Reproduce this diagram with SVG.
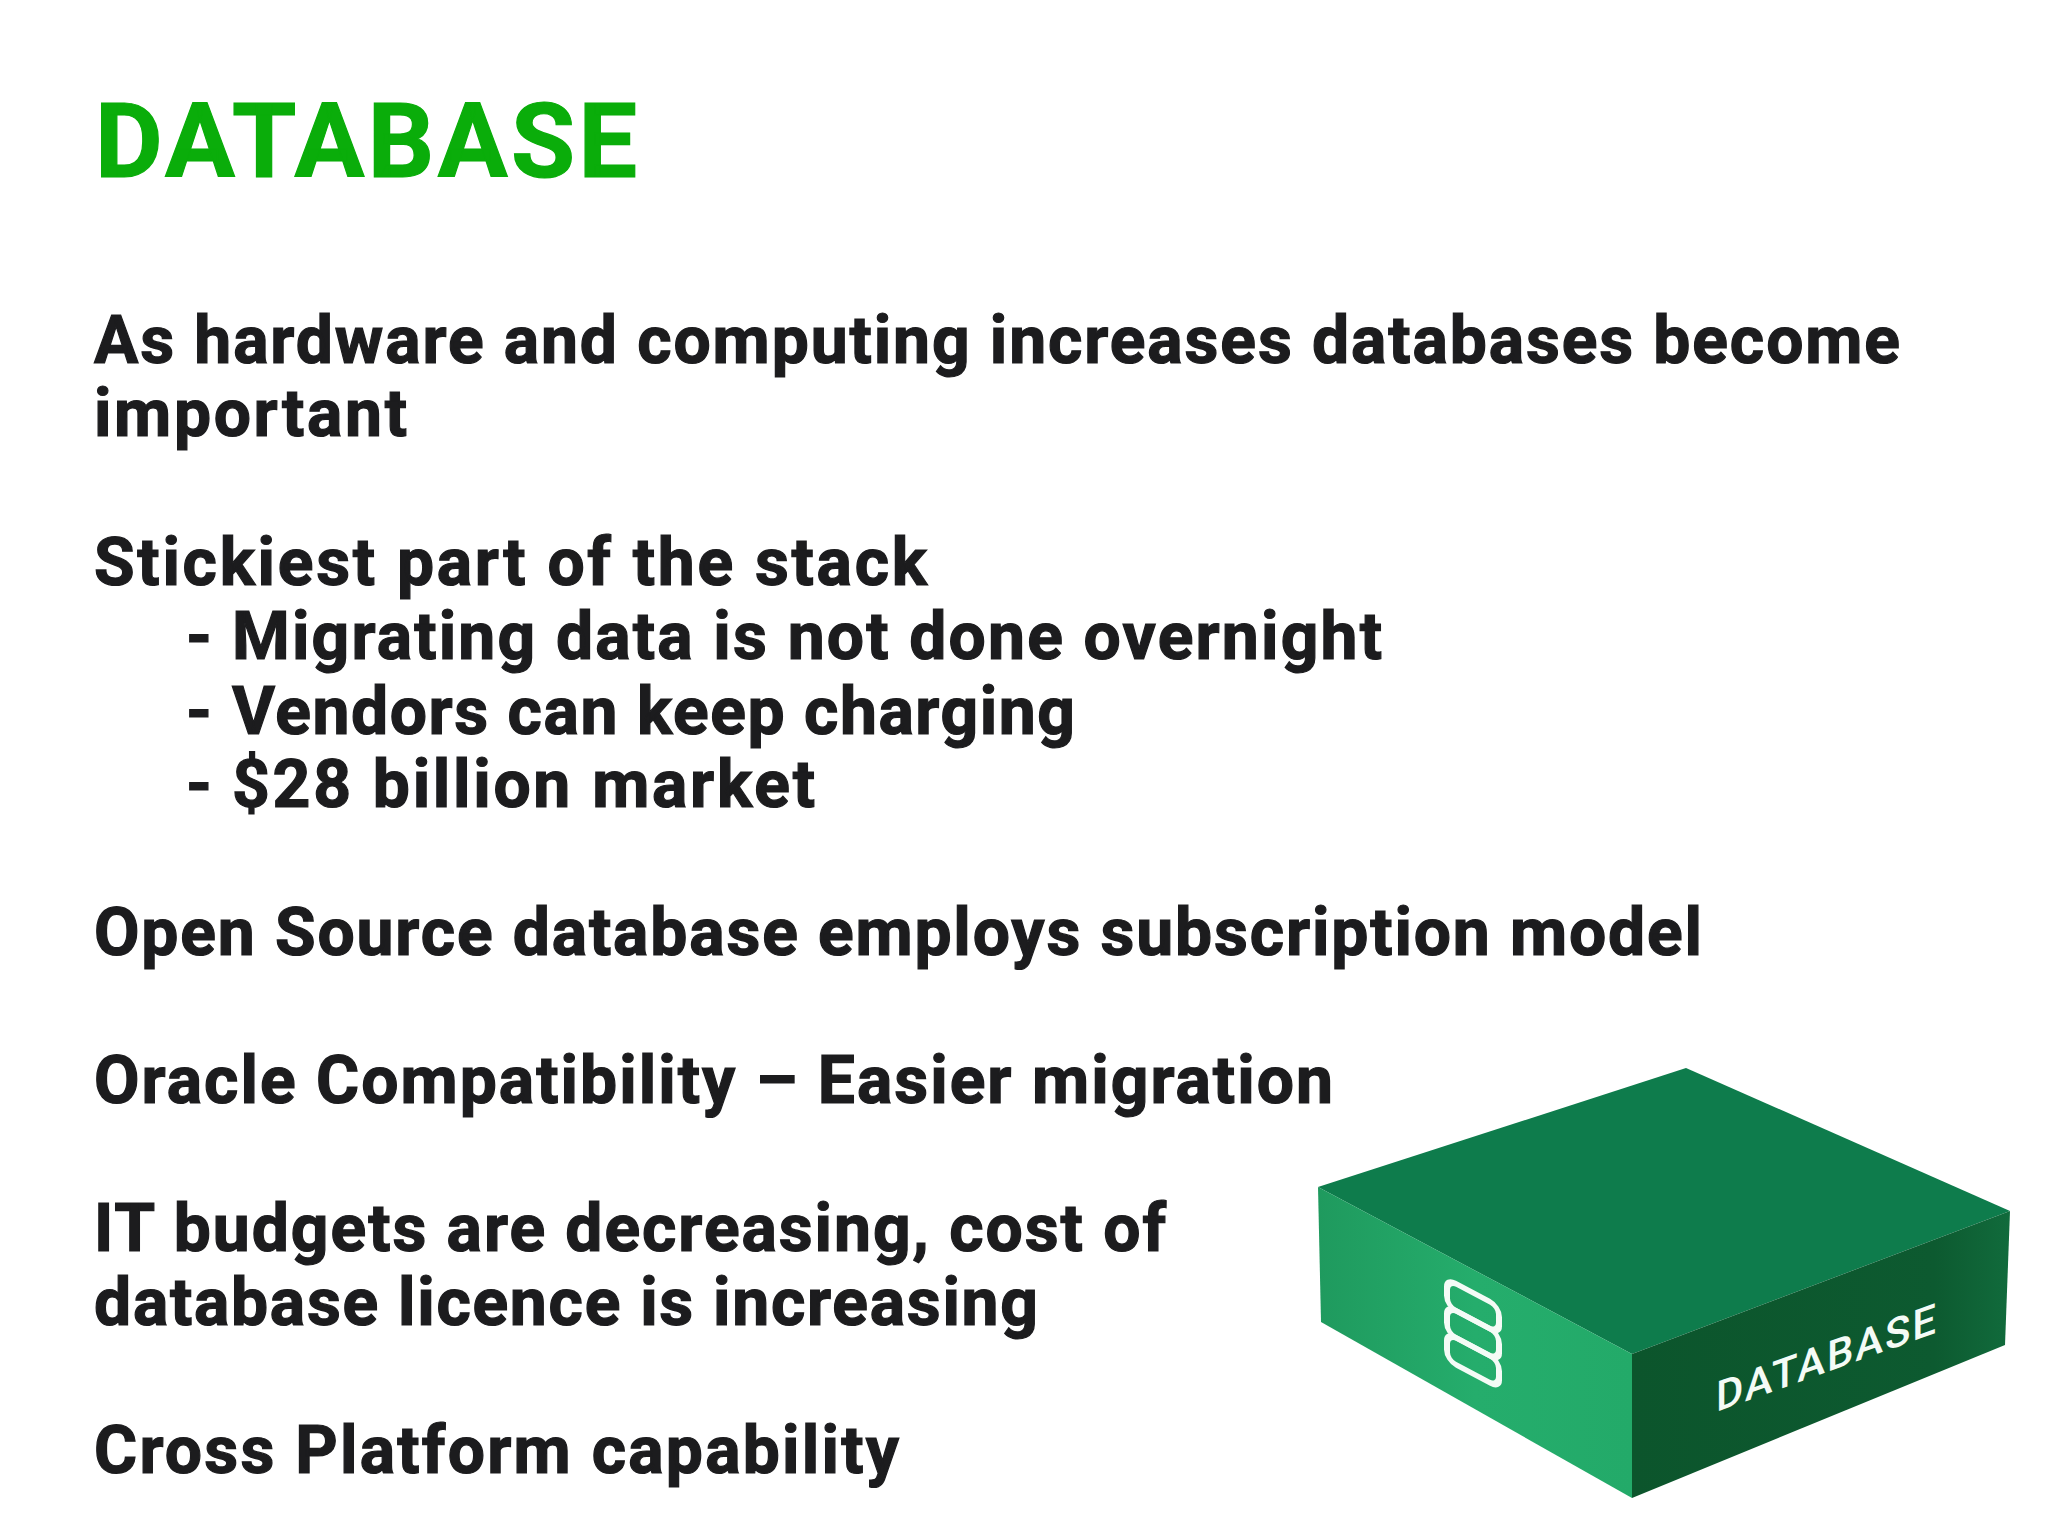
<svg xmlns="http://www.w3.org/2000/svg" width="2048" height="1535" viewBox="0 0 2048 1535">
<defs>
<style>
.t{font-family:Roboto,"Open Sans",sans-serif;font-weight:700;font-size:66px;fill:#1c1c1e;stroke:#1c1c1e;stroke-width:1.2px}
.h{font-family:Roboto,"Open Sans",sans-serif;font-weight:700;font-size:104px;fill:#0aad0a;stroke:#0aad0a;stroke-width:1.2px}
.i{fill:none;stroke:#f4fbf6;stroke-width:6}
</style>
<linearGradient id="lf" x1="0" y1="0" x2="1" y2="0"><stop offset="0" stop-color="#1f9a5e"/><stop offset="0.5" stop-color="#25ad6c"/><stop offset="1" stop-color="#23aa69"/></linearGradient>
<linearGradient id="rf" x1="0" y1="0" x2="1" y2="0"><stop offset="0" stop-color="#0c552c"/><stop offset="0.8" stop-color="#0d5a30"/><stop offset="1" stop-color="#116b3c"/></linearGradient>
</defs>
<rect width="2048" height="1535" fill="#fff"/>
<text id="title" class="h" x="95" y="177" textLength="542" lengthAdjust="spacing">DATABASE</text>
<g id="body">
<text class="t" x="94" y="363" textLength="1806" lengthAdjust="spacing">As hardware and computing increases databases become</text>
<text class="t" x="94" y="436" textLength="313" lengthAdjust="spacing">important</text>
<text class="t" x="94" y="585" textLength="833" lengthAdjust="spacing">Stickiest part of the stack</text>
<text class="t"><tspan x="186" y="659">-</tspan><tspan x="232" y="659" textLength="1150" lengthAdjust="spacing">Migrating data is not done overnight</tspan></text>
<text class="t"><tspan x="186" y="734">-</tspan><tspan x="232" y="734" textLength="843" lengthAdjust="spacing">Vendors can keep charging</tspan></text>
<text class="t"><tspan x="186" y="807">-</tspan><tspan x="232" y="807" textLength="583" lengthAdjust="spacing">$28 billion market</tspan></text>
<text class="t" x="94" y="955" textLength="1608" lengthAdjust="spacing">Open Source database employs subscription model</text>
<text class="t" x="94" y="1103" textLength="1239" lengthAdjust="spacing">Oracle Compatibility – Easier migration</text>
<text class="t" x="94" y="1251" textLength="1072" lengthAdjust="spacing">IT budgets are decreasing, cost of</text>
<text class="t" x="94" y="1325" textLength="944" lengthAdjust="spacing">database licence is increasing</text>
<text class="t" x="94" y="1473" textLength="805" lengthAdjust="spacing">Cross Platform capability</text>
</g>
<g id="cube">
<polygon points="1686,1068 2010,1211 1632,1354 1318,1187" fill="#0e7c4c"/>
<polygon points="1318,1187 1632,1354 1632,1498 1321,1322" fill="url(#lf)"/>
<polygon points="1632,1354 2010,1211 2005,1345 1632,1498" fill="url(#rf)"/>
<g transform="matrix(1,0.53,0,1,1447,1279)">
<rect class="i" width="52" height="27" rx="9"/>
<rect class="i" y="27" width="52" height="27" rx="9"/>
<rect class="i" y="54" width="52" height="27" rx="9"/>
</g>
<text transform="matrix(1,-0.36,0,1,1716,1412)" style="font-family:Roboto,sans-serif;font-weight:500;font-size:42px;fill:#f4fbf6" textLength="220" lengthAdjust="spacing">DATABASE</text>
</g>
</svg>
